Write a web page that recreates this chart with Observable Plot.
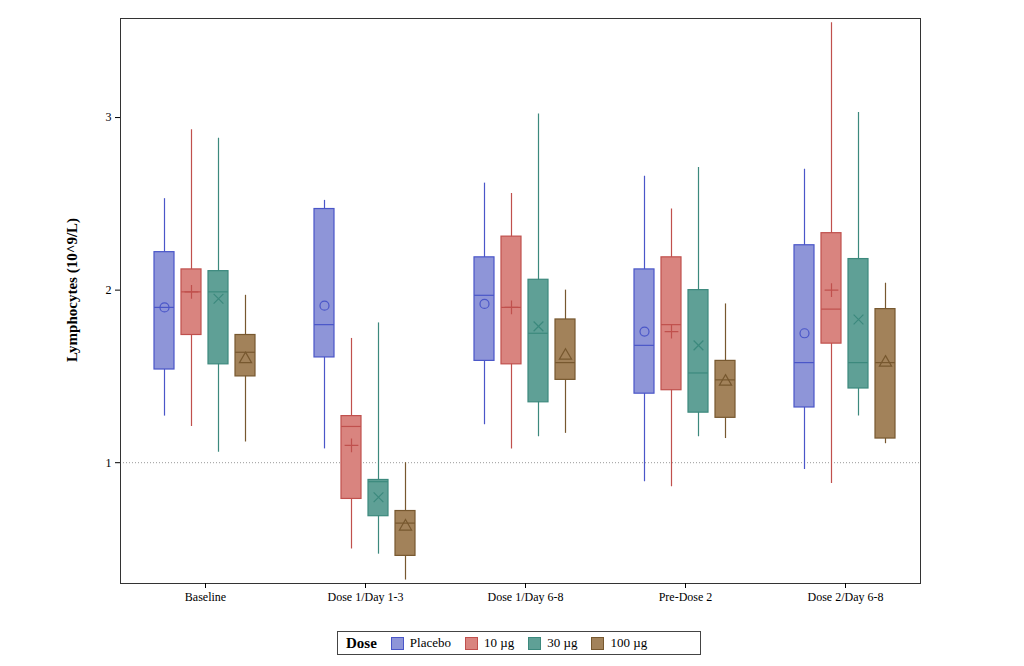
<!DOCTYPE html>
<html><head><meta charset="utf-8">
<script src="https://cdn.jsdelivr.net/npm/d3@7"></script>
<script src="https://cdn.jsdelivr.net/npm/@observablehq/plot@0.6"></script>
<style>
body{margin:0;background:#fff;font-family:"Liberation Serif",serif;}
#legend{position:absolute;left:337px;top:631px;width:364px;height:24px;border:1px solid #444;display:flex;align-items:center;font-size:13px;box-sizing:border-box;}
#legend b{font-size:15px;margin:0 14px 0 8px}
.sw{display:inline-block;width:11px;height:11px;border:1px solid;margin-right:6px}
.it{margin-right:14px;display:flex;align-items:center}
#ylab{position:absolute;left:72px;top:290px;transform:translate(-50%,-50%) rotate(-90deg);font-weight:bold;font-size:15px;white-space:nowrap}
</style></head><body>
<div id="chart"></div>
<div id="ylab">Lymphocytes (10^9/L)</div>
<div id="legend"></div>
<script>
const groups = ["Baseline","Dose 1/Day 1-3","Dose 1/Day 6-8","Pre-Dose 2","Dose 2/Day 6-8"];
const doses = ["Placebo","10 µg","30 µg","100 µg"];
const fills = ["#8e95d8","#d9847f","#5fa096","#a2825a"];
const strokes = ["#4a56c8","#c0504d","#3c897d","#77582f"];
const symbols = ["circle","plus","times","triangle"];
const offsets = [-36,-9,18,45];
const low   = [[1.27,1.08,1.22,0.89,0.96],[1.21,0.50,1.08,0.86,0.88],[1.06,0.47,1.15,1.15,1.27],[1.12,0.32,1.17,1.14,1.11]];
const q1    = [[1.54,1.61,1.59,1.40,1.32],[1.74,0.79,1.57,1.42,1.69],[1.57,0.69,1.35,1.29,1.43],[1.50,0.46,1.48,1.26,1.14]];
const med   = [[1.90,1.80,1.97,1.68,1.58],[1.99,1.21,1.90,1.80,1.89],[1.99,0.89,1.75,1.52,1.58],[1.64,0.65,1.58,1.48,1.58]];
const q3    = [[2.22,2.47,2.19,2.12,2.26],[2.12,1.27,2.31,2.19,2.33],[2.11,0.90,2.06,2.00,2.18],[1.74,0.72,1.83,1.59,1.89]];
const high  = [[2.53,2.52,2.62,2.66,2.70],[2.93,1.72,2.56,2.47,3.55],[2.88,1.81,3.02,2.71,3.03],[1.97,1.00,2.00,1.92,2.04]];
const mean  = [[1.90,1.91,1.92,1.76,1.75],[1.99,1.10,1.90,1.76,2.00],[1.95,0.80,1.79,1.68,1.83],[1.60,0.63,1.62,1.47,1.58]];

const marks = [Plot.ruleY([1],{stroke:"#999",strokeDasharray:"1,2"})];
doses.forEach((d,i)=>{
  const rows = groups.map((g,j)=>({g,low:low[i][j],q1:q1[i][j],med:med[i][j],q3:q3[i][j],high:high[i][j],mean:mean[i][j]}));
  const dx = offsets[i], inset = 70;
  marks.push(
    Plot.ruleX(rows,{x:"g",y1:"low",y2:"high",stroke:strokes[i],strokeWidth:1.2,dx}),
    Plot.barY(rows,{x:"g",y1:"q1",y2:"q3",fill:fills[i],stroke:strokes[i],strokeWidth:1.2,insetLeft:inset,insetRight:inset,dx}),
    Plot.tickY(rows,{x:"g",y:"med",stroke:strokes[i],strokeWidth:1.2,insetLeft:inset,insetRight:inset,dx}),
    Plot.dot(rows,{x:"g",y:"mean",symbol:()=>symbols[i],stroke:strokes[i],fill:"none",r:4.5,strokeWidth:1.2,dx})
  );
});
marks.push(Plot.frame({stroke:"#333"}));
const chart = Plot.plot({
  width:1024,height:620,
  marginLeft:120,marginRight:104,marginTop:18,marginBottom:37,
  style:{fontFamily:"Liberation Serif, serif",fontSize:"12px",color:"#000"},
  x:{domain:groups,padding:0,label:null,tickSize:5,axis:null},
  y:{domain:[0.30,3.574],ticks:[1,2,3],tickFormat:d=>d,label:null,tickSize:5},
  marks:[...marks, Plot.axisX({domain:groups,label:null,tickSize:5,dx:5})]
});
document.getElementById("chart").append(chart);
const lg = document.getElementById("legend");
lg.innerHTML = "<b>Dose</b>" + doses.map((d,i)=>`<span class="it"><span class="sw" style="background:${fills[i]};border-color:${strokes[i]}"></span>${d}</span>`).join("");
</script>
</body></html>
